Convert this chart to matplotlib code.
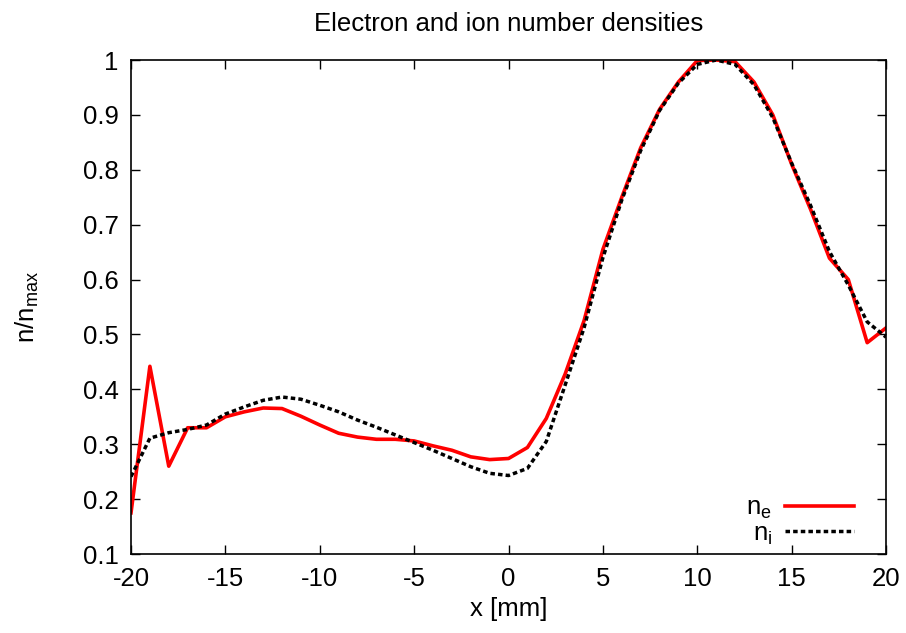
import matplotlib
matplotlib.use("Agg")
import matplotlib.pyplot as plt

plt.rcParams['font.family'] = ['Liberation Sans', 'DejaVu Sans']
plt.rcParams['mathtext.fontset'] = 'custom'
plt.rcParams['mathtext.rm'] = 'Liberation Sans'
plt.rcParams['mathtext.it'] = 'Liberation Sans'
plt.rcParams['axes.unicode_minus'] = False

# position in mm
x = list(range(-20, 21))

# electron density (normalised)
n_e = [0.175, 0.442, 0.260, 0.330, 0.330, 0.350, 0.359, 0.366, 0.365, 0.351,
       0.335, 0.320, 0.313, 0.309, 0.309, 0.306, 0.297, 0.289, 0.277, 0.272,
       0.274, 0.294, 0.347, 0.428, 0.525, 0.655, 0.750, 0.840, 0.910, 0.960,
       0.999, 1.000, 0.997, 0.960, 0.900, 0.810, 0.728, 0.639, 0.600, 0.485,
       0.512]

# ion density (normalised)
n_i = [0.241, 0.311, 0.321, 0.327, 0.335, 0.355, 0.368, 0.380, 0.386, 0.382,
       0.371, 0.359, 0.344, 0.331, 0.317, 0.303, 0.289, 0.274, 0.259, 0.247,
       0.243, 0.256, 0.305, 0.408, 0.512, 0.640, 0.745, 0.835, 0.908, 0.958,
       0.992, 1.000, 0.992, 0.955, 0.895, 0.812, 0.735, 0.651, 0.590, 0.523,
       0.495]

fs = 18.5

fig = plt.figure(figsize=(9.06, 6.33), dpi=100)
ax = fig.add_axes([0.1446, 0.1248, 0.8334, 0.7804])

ax.plot(x, n_e, color='#ff0000', lw=2.6, label=r'$\mathrm{n_e}$')
ax.plot(x, n_i, color='black', lw=2.5, dashes=(1.3, 0.9), label=r'$\mathrm{n_i}$')

ax.set_xlim(-20, 20)
ax.set_ylim(0.1, 1.0)
ax.set_xticks(range(-20, 21, 5))
ax.set_yticks([0.1, 0.2, 0.3, 0.4, 0.5, 0.6, 0.7, 0.8, 0.9, 1.0])
ax.set_yticklabels(['0.1', '0.2', '0.3', '0.4', '0.5', '0.6', '0.7', '0.8', '0.9', '1'])
ax.tick_params(direction='in', length=6.5, width=1, top=True, right=True,
               labelsize=fs)
ax.tick_params(axis='x', pad=9)
ax.tick_params(axis='y', pad=9)
for s in ax.spines.values():
    s.set_linewidth(1.2)

ax.set_title('Electron and ion number densities', fontsize=fs, pad=21)
ax.set_xlabel('x [mm]', fontsize=fs, labelpad=5)
ax.set_ylabel(r'n/n$_{\mathrm{max}}$', fontsize=fs, labelpad=30)

ax.legend(loc='lower right', frameon=False, markerfirst=False, fontsize=fs,
          handlelength=2.7, labelspacing=0.0, borderaxespad=0.0,
          borderpad=0.0, handletextpad=0.5,
          bbox_to_anchor=(0.958, 0.015))

fig.savefig('out.png', dpi=100)
